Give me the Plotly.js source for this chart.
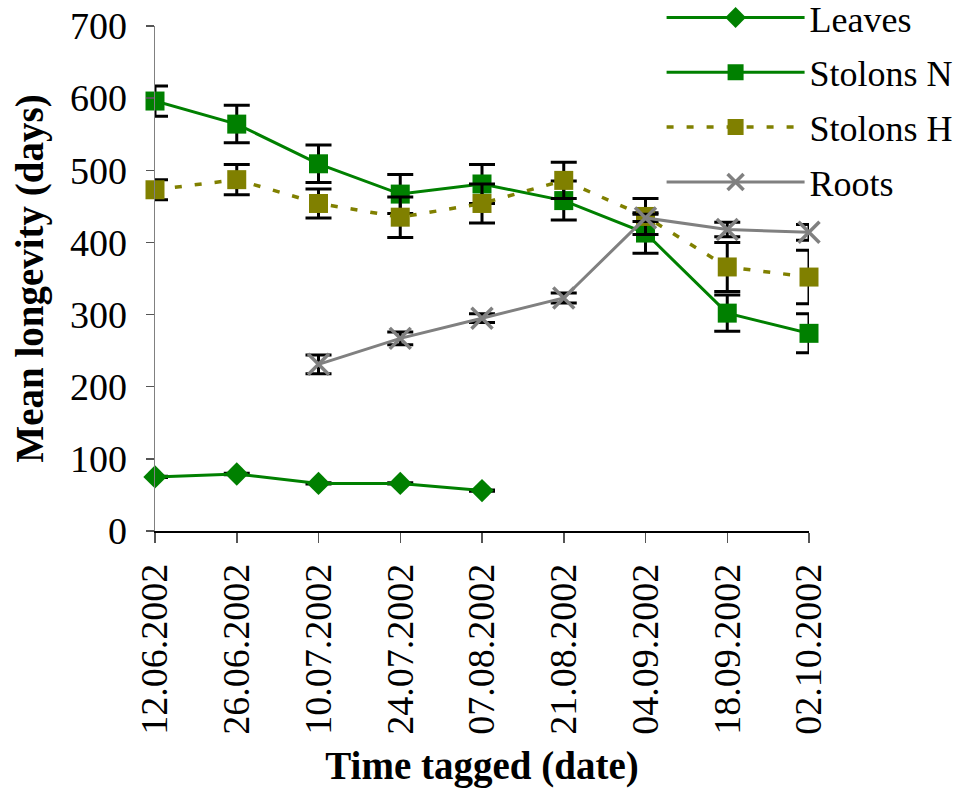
<!DOCTYPE html>
<html><head><meta charset="utf-8">
<script src="https://cdn.plot.ly/plotly-3.0.1.min.js"></script>
<style>html,body{margin:0;padding:0;background:#fff}</style>
</head><body><div id="chart" style="width:963px;height:788px"></div>
<script>
const dates = ['12.06.2002','26.06.2002','10.07.2002','24.07.2002','07.08.2002','21.08.2002','04.09.2002','18.09.2002','02.10.2002'];
const leavesDates = ['12.06.2002','26.06.2002','10.07.2002','24.07.2002','07.08.2002'];
const leaves = [75,79,66,66,56];
const leavesErr = [1,1,1,1,1];
const stolonsN = [596,564,509,467,481,458,413,302,274];
const stolonsNErr = [21,26,26,27,27,27,28,25,27];
const stolonsH = [473,487,454,435,454,486,436,366,352];
const stolonsHErr = [14,21,20,28,27,25,25,34,37];
const rootsDates = ['10.07.2002','24.07.2002','07.08.2002','21.08.2002','04.09.2002','18.09.2002','02.10.2002'];
const roots = [231,267,295,323,434,418,414];
const rootsErr = [13,9,6,7,5,10,11];

const serif = "'Liberation Serif', 'Times New Roman', serif";
function eb(arr){return {type:'data',array:arr,visible:true,color:'#000',thickness:3,width:13};}

const traces = [
 {name:'Leaves',x:leavesDates,y:leaves,error_y:eb(leavesErr),mode:'lines+markers',legendgroup:'a',
  line:{color:'#008000',width:3},marker:{symbol:'diamond',size:18,color:'#008000'},cliponaxis:false},
 {name:'Stolons N',x:dates,y:stolonsN,error_y:eb(stolonsNErr),mode:'lines+markers',legendgroup:'b',
  line:{color:'#008000',width:3},marker:{symbol:'square',size:19,color:'#008000'},cliponaxis:false},
 {name:'Stolons H',x:dates,y:stolonsH,error_y:eb(stolonsHErr),mode:'lines+markers',legendgroup:'c',
  line:{color:'#808000',width:3.5,dash:'7px,13px'},marker:{symbol:'square',size:19,color:'#808000'},cliponaxis:false},
 {name:'Roots',x:rootsDates,y:roots,error_y:eb(rootsErr),mode:'lines+markers',legendgroup:'d',
  line:{color:'#808080',width:3},marker:{symbol:'x-thin-open',size:21,color:'#808080',line:{color:'#808080',width:3.5}},cliponaxis:false}
];

const layout = {
 width:963,height:788,
 margin:{l:155,r:154,t:26,b:257,autoexpand:false},
 paper_bgcolor:'#fff',plot_bgcolor:'#fff',
 font:{family:serif,color:'#000'},
 showlegend:true,
 legend:{x:0.7746,xanchor:'left',y:1.076,yanchor:'top',font:{family:serif,size:36,color:'#000'},
   bgcolor:'rgba(0,0,0,0)',itemwidth:138,tracegroupgap:5},
 xaxis:{type:'category',categoryorder:'array',categoryarray:dates,range:[0,8],showgrid:false,zeroline:false,
   showline:true,linecolor:'#000',linewidth:1.5,ticks:'outside',ticklen:10,tickwidth:1.5,tickcolor:'#555',
   tickangle:-90,ticklabelstandoff:6,tickfont:{family:serif,size:38,color:'#000'},
   title:{text:'Time tagged (date)',font:{family:serif,size:39,color:'#000',weight:'bold'},standoff:19}},
 yaxis:{range:[0,700],dtick:100,showgrid:false,zeroline:false,showline:true,linecolor:'#808080',linewidth:1.5,
   ticks:'outside',ticklen:8,tickwidth:1.5,tickcolor:'#555',ticklabelstandoff:11,
   tickfont:{family:serif,size:38,color:'#000'},
   title:{text:'Mean longevity (days)',font:{family:serif,size:39,color:'#000',weight:'bold'},standoff:14}}
};
Plotly.newPlot('chart',traces,layout,{displayModeBar:false,staticPlot:true});
</script></body></html>
